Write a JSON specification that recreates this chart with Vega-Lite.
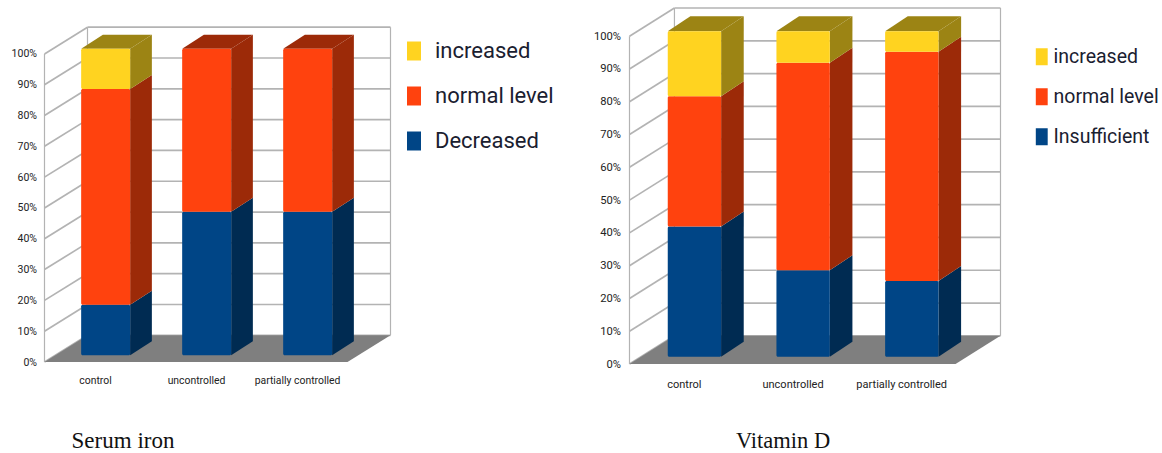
{
"$schema":"https://vega.github.io/schema/vega-lite/v6.json",
"background":"white",
"padding":{"left":10.5,"top":7,"right":0,"bottom":0},
"bounds":"flush",
"spacing":239,
"config":{"view":{"stroke":null},"font":"Roboto"},
"datasets":{
"serumIron":[
{"group":"control","level":"Decreased","from":0,"to":16.5},
{"group":"control","level":"normal level","from":16.5,"to":86.9},
{"group":"control","level":"increased","from":86.9,"to":100},
{"group":"uncontrolled","level":"Decreased","from":0,"to":46.8},
{"group":"uncontrolled","level":"normal level","from":46.8,"to":100},
{"group":"partially controlled","level":"Decreased","from":0,"to":46.8},
{"group":"partially controlled","level":"normal level","from":46.8,"to":100}
],
"vitaminD":[
{"group":"control","level":"Insufficient","from":0,"to":40},
{"group":"control","level":"normal level","from":40,"to":80},
{"group":"control","level":"increased","from":80,"to":100},
{"group":"uncontrolled","level":"Insufficient","from":0,"to":26.6},
{"group":"uncontrolled","level":"normal level","from":26.6,"to":90.3},
{"group":"uncontrolled","level":"increased","from":90.3,"to":100},
{"group":"partially controlled","level":"Insufficient","from":0,"to":23.3},
{"group":"partially controlled","level":"normal level","from":23.3,"to":93.7},
{"group":"partially controlled","level":"increased","from":93.7,"to":100}
],
"ticks":[{"tick":0},{"tick":10},{"tick":20},{"tick":30},{"tick":40},{"tick":50},{"tick":60},{"tick":70},{"tick":80},{"tick":90},{"tick":100}],
"walls":[{"wall":"front"},{"wall":"back left"},{"wall":"back right"}],
"floor":[{"depth":0},{"depth":1}]
},
"resolve":{"scale":{"color":"independent"}},
"hconcat":[
{
"width":346,"height":354,
"encoding":{
"x":{"field":"px","type":"quantitative","scale":{"domain":[0,3.4257],"nice":false,"zero":false},
"axis":{"values":[0.5,1.5,2.5],"labelExpr":"['control','uncontrolled','partially controlled'][floor(datum.value)]","domain":false,"ticks":false,"grid":false,"labelFontSize":10.4,"labelPadding":13,"labelColor":"#222","labelFlush":false,"labelOverlap":false,"title":"Serum iron","titleFont":"Liberation Serif","titleFontSize":23,"titleFontWeight":"normal","titleColor":"#111","titleAnchor":"start","titleAlign":"center","titleBaseline":"alphabetic","titleX":78,"titleY":85}},
"y":{"field":"py","type":"quantitative","scale":{"domain":[0,114.9],"nice":false,"zero":false},
"axis":{"values":[0,10,20,30,40,50,60,70,80,90,100],"labelExpr":"datum.value + '%'","domain":false,"ticks":false,"grid":false,"labelFontSize":10.5,"labelPadding":8,"labelColor":"#222","title":null}}
},
"layer":[
{"data":{"name":"ticks"},"transform":[{"calculate":"0.4257","as":"px"},{"calculate":"3.4257","as":"px2"},{"calculate":"datum.tick+8.67","as":"py"}],
"mark":{"type":"rule","color":"#b3b3b3","strokeWidth":1.7},"encoding":{"x2":{"field":"px2"}}},
{"data":{"name":"ticks"},"transform":[{"calculate":"0","as":"px"},{"calculate":"0.4257","as":"px2"},{"calculate":"datum.tick","as":"py"},{"calculate":"datum.tick+8.67","as":"py2"}],
"mark":{"type":"rule","color":"#b3b3b3","strokeWidth":1.7},"encoding":{"x2":{"field":"px2"},"y2":{"field":"py2"}}},
{"data":{"name":"walls"},"transform":[{"calculate":"datum.wall=='front'?0:(datum.wall=='back left'?0.4257:3.4257)","as":"px"},{"calculate":"datum.wall=='front'?0:8.67","as":"py"},{"calculate":"datum.py+100","as":"py2"}],
"mark":{"type":"rule","color":"#b3b3b3","strokeWidth":1.2},"encoding":{"y2":{"field":"py2"}}},
{"data":{"name":"floor"},"transform":[{"calculate":"datum.depth*0.4257","as":"px"},{"calculate":"3+datum.depth*0.4257","as":"px2"},{"calculate":"datum.depth*8.67","as":"py"}],
"mark":{"type":"area","orient":"horizontal","color":"#7f7f7f"},"encoding":{"x2":{"field":"px2"}}},
{"data":{"name":"serumIron"},"transform":[
{"calculate":"datum.level+' shaded'","as":"face"},
{"calculate":"indexof(['control','uncontrolled','partially controlled'],datum.group)","as":"slot"},
{"calculate":"[0,1]","as":"depth"},{"flatten":["depth"]},
{"calculate":"datum.slot+0.363+0.485+datum.depth*0.215","as":"px"},
{"calculate":"2.17+datum.from*0.995+datum.depth*4.55","as":"py"},
{"calculate":"2.17+datum.to*0.995+datum.depth*4.55","as":"py2"}],
"mark":{"type":"area","orient":"vertical"},
"encoding":{"y2":{"field":"py2"},"detail":{"field":"group"},
"color":{"field":"face","type":"nominal","legend":{"orient":"none","legendX":358.5,"legendY":32,"values":["increased","normal level","Decreased"],"padding":0,"title":null,"symbolType":"M-0.74,-1H0.74V1H-0.74Z","symbolSize":361,"symbolStrokeWidth":0,"labelFontSize":22,"labelColor":"#1a2030","labelOffset":10,"rowPadding":23,"labelExpr":"datum.value=='increased'?'\u00a0\u00a0increased':datum.value"},"scale":{"domain":["increased","normal level","Decreased","increased shaded","normal level shaded","Decreased shaded"],"range":["#ffd320","#ff420e","#004586","#9c8414","#9c2a08","#002b52"]}}}},
{"data":{"name":"serumIron"},"transform":[{"filter":"datum.to==100"},
{"calculate":"datum.level+' shaded'","as":"face"},
{"calculate":"indexof(['control','uncontrolled','partially controlled'],datum.group)","as":"slot"},
{"calculate":"[0,1]","as":"depth"},{"flatten":["depth"]},
{"calculate":"datum.slot+0.363+datum.depth*0.215","as":"px"},
{"calculate":"datum.px+0.485","as":"px2"},
{"calculate":"2.17+datum.to*0.995+datum.depth*4.55","as":"py"}],
"mark":{"type":"area","orient":"horizontal"},
"encoding":{"x2":{"field":"px2"},"detail":{"field":"group"},
"color":{"field":"face","type":"nominal"}}},
{"data":{"name":"serumIron"},"transform":[
{"calculate":"datum.level","as":"face"},
{"calculate":"indexof(['control','uncontrolled','partially controlled'],datum.group)","as":"slot"},
{"calculate":"datum.slot+0.363","as":"px"},
{"calculate":"datum.px+0.485","as":"px2"},
{"calculate":"2.17+datum.from*0.995","as":"py"},
{"calculate":"2.17+datum.to*0.995","as":"py2"}],
"mark":{"type":"rect","cornerRadius":1.5,"strokeWidth":0},
"encoding":{"x2":{"field":"px2"},"y2":{"field":"py2"},
"color":{"field":"face","type":"nominal"}}}
]
},
{
"width":371,"height":356,
"encoding":{
"x":{"field":"px","type":"quantitative","scale":{"domain":[0,3.4135],"nice":false,"zero":false},
"axis":{"values":[0.5,1.5,2.5],"labelExpr":"['control','uncontrolled','partially controlled'][floor(datum.value)]","domain":false,"ticks":false,"grid":false,"labelFontSize":11,"labelPadding":14,"labelColor":"#222","labelFlush":false,"labelOverlap":false,"title":"Vitamin D","titleFont":"Liberation Serif","titleFontSize":22.5,"titleFontWeight":"normal","titleColor":"#111","titleAnchor":"start","titleAlign":"center","titleBaseline":"alphabetic","titleX":153,"titleY":83}},
"y":{"field":"py","type":"quantitative","scale":{"domain":[0,108.6],"nice":false,"zero":false},
"axis":{"values":[0,10,20,30,40,50,60,70,80,90,100],"labelExpr":"datum.value + '%'","domain":false,"ticks":false,"grid":false,"labelFontSize":11.2,"labelPadding":9,"labelColor":"#222","title":null}}
},
"layer":[
{"data":{"name":"ticks"},"transform":[{"calculate":"0.4135","as":"px"},{"calculate":"3.4135","as":"px2"},{"calculate":"datum.tick+8.6","as":"py"}],
"mark":{"type":"rule","color":"#b3b3b3","strokeWidth":1.7},"encoding":{"x2":{"field":"px2"}}},
{"data":{"name":"ticks"},"transform":[{"calculate":"0","as":"px"},{"calculate":"0.4135","as":"px2"},{"calculate":"datum.tick","as":"py"},{"calculate":"datum.tick+8.6","as":"py2"}],
"mark":{"type":"rule","color":"#b3b3b3","strokeWidth":1.7},"encoding":{"x2":{"field":"px2"},"y2":{"field":"py2"}}},
{"data":{"name":"walls"},"transform":[{"calculate":"datum.wall=='front'?0:(datum.wall=='back left'?0.4135:3.4135)","as":"px"},{"calculate":"datum.wall=='front'?0:8.6","as":"py"},{"calculate":"datum.py+100","as":"py2"}],
"mark":{"type":"rule","color":"#b3b3b3","strokeWidth":1.2},"encoding":{"y2":{"field":"py2"}}},
{"data":{"name":"floor"},"transform":[{"calculate":"datum.depth*0.4135","as":"px"},{"calculate":"3+datum.depth*0.4135","as":"px2"},{"calculate":"datum.depth*8.6","as":"py"}],
"mark":{"type":"area","orient":"horizontal","color":"#7f7f7f"},"encoding":{"x2":{"field":"px2"}}},
{"data":{"name":"vitaminD"},"transform":[
{"calculate":"datum.level+' shaded'","as":"face"},
{"calculate":"indexof(['control','uncontrolled','partially controlled'],datum.group)","as":"slot"},
{"calculate":"[0,1]","as":"depth"},{"flatten":["depth"]},
{"calculate":"datum.slot+0.352+0.491+datum.depth*0.208","as":"px"},
{"calculate":"2.22+datum.from*0.993+datum.depth*4.57","as":"py"},
{"calculate":"2.22+datum.to*0.993+datum.depth*4.57","as":"py2"}],
"mark":{"type":"area","orient":"vertical"},
"encoding":{"y2":{"field":"py2"},"detail":{"field":"group"},
"color":{"field":"face","type":"nominal","legend":{"orient":"none","legendX":402.5,"legendY":39,"values":["increased","normal level","Insufficient"],"padding":0,"title":null,"symbolType":"M-0.7,-1H0.7V1H-0.7Z","symbolSize":289,"symbolStrokeWidth":0,"labelFontSize":19.5,"labelColor":"#1a2030","labelOffset":2,"rowPadding":19,"labelExpr":"datum.value=='increased'?'\u00a0\u00a0increased':datum.value"},"scale":{"domain":["increased","normal level","Insufficient","increased shaded","normal level shaded","Insufficient shaded"],"range":["#ffd320","#ff420e","#004586","#9c8414","#9c2a08","#002b52"]}}}},
{"data":{"name":"vitaminD"},"transform":[{"filter":"datum.to==100"},
{"calculate":"datum.level+' shaded'","as":"face"},
{"calculate":"indexof(['control','uncontrolled','partially controlled'],datum.group)","as":"slot"},
{"calculate":"[0,1]","as":"depth"},{"flatten":["depth"]},
{"calculate":"datum.slot+0.352+datum.depth*0.208","as":"px"},
{"calculate":"datum.px+0.491","as":"px2"},
{"calculate":"2.22+datum.to*0.993+datum.depth*4.57","as":"py"}],
"mark":{"type":"area","orient":"horizontal"},
"encoding":{"x2":{"field":"px2"},"detail":{"field":"group"},
"color":{"field":"face","type":"nominal"}}},
{"data":{"name":"vitaminD"},"transform":[
{"calculate":"datum.level","as":"face"},
{"calculate":"indexof(['control','uncontrolled','partially controlled'],datum.group)","as":"slot"},
{"calculate":"datum.slot+0.352","as":"px"},
{"calculate":"datum.px+0.491","as":"px2"},
{"calculate":"2.22+datum.from*0.993","as":"py"},
{"calculate":"2.22+datum.to*0.993","as":"py2"}],
"mark":{"type":"rect","cornerRadius":1.5,"strokeWidth":0},
"encoding":{"x2":{"field":"px2"},"y2":{"field":"py2"},
"color":{"field":"face","type":"nominal"}}}
]
}
]
}
